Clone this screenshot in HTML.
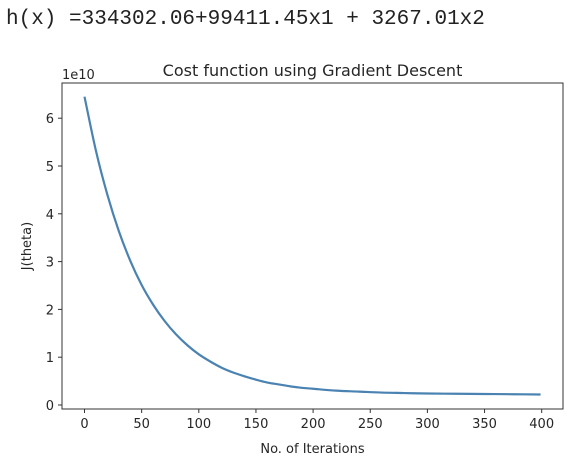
<!DOCTYPE html>
<html><head><meta charset="utf-8"><style>
body{margin:0;background:#fff;width:571px;height:460px;overflow:hidden}
.hdr{position:absolute;left:6px;top:8px;font:21px "Liberation Mono",monospace;color:#222;white-space:pre}
svg{position:absolute;left:0;top:0}
text{font-family:"DejaVu Sans","Liberation Sans",sans-serif;fill:#262626}
</style></head><body>
<div class="hdr">h(x) =334302.06+99411.45x1 + 3267.01x2</div>
<svg id="c" width="571" height="460"></svg>
<script>
const iters=[0,10,20,30,40,50,60,70,80,90,100,110,120,130,140,150,160,170,180,190,200,220,240,260,280,300,325,350,375,399];
const cost=[6.45,5.32,4.40,3.64,3.02,2.51,2.10,1.76,1.48,1.25,1.06,0.91,0.78,0.68,0.60,0.53,0.47,0.43,0.39,0.36,0.34,0.30,0.28,0.26,0.25,0.24,0.235,0.23,0.225,0.22];
const xTicks=[0,50,100,150,200,250,300,350,400];
const yTicks=[0,1,2,3,4,5,6];
const L=62,R=563,T=83,B=409;
const xs=v=>84.5+v*(541.7-84.5)/400;
const ys=v=>405-v*47.8;
const svg=document.getElementById('c');const NS='http://www.w3.org/2000/svg';
function mk(t,a,txt){const e=document.createElementNS(NS,t);for(const k in a)e.setAttribute(k,a[k]);if(txt!=null)e.textContent=txt;svg.appendChild(e);return e;}
let e=mk('rect',{x:L,y:T,width:R-L,height:B-T,fill:'none',stroke:'#333','stroke-width':1});


xTicks.forEach(v=>{const x=xs(v);
 let t=mk('line',{x1:x,x2:x,y1:B,y2:B+4,stroke:'#333'});
 
 
 let l=mk('text',{x:x,y:B+19,'text-anchor':'middle','font-size':13},v);
 
 });
yTicks.forEach(v=>{const y=ys(v);
 let t=mk('line',{x1:L-4,x2:L,y1:y,y2:y,stroke:'#333'});
 
 
 let l=mk('text',{x:L-8,y:y+5,'text-anchor':'end','font-size':13},v);
 
 });
let d='M'+xs(iters[0])+','+ys(cost[0]);
for(let i=1;i<iters.length;i++){
 const x0=xs(iters[i-1]),y0=ys(cost[i-1]),x1=xs(iters[i]),y1=ys(cost[i]);
 const xp=i>1?xs(iters[i-2]):x0,yp=i>1?ys(cost[i-2]):y0;
 const xn=i<iters.length-1?xs(iters[i+1]):x1,yn=i<iters.length-1?ys(cost[i+1]):y1;
 d+=' C'+(x0+(x1-xp)/6)+','+(y0+(y1-yp)/6)+' '+(x1-(xn-x0)/6)+','+(y1-(yn-y0)/6)+' '+x1+','+y1;
}
let p=mk('path',{d:d,fill:'none',stroke:'#4a83b1','stroke-width':2.2,'stroke-linejoin':'round'});


let a=mk('text',{x:L,y:T-4,'font-size':13},'1e10');


let ti=mk('text',{x:(L+R)/2,y:T-7,'text-anchor':'middle','font-size':16},'Cost function using Gradient Descent');


let xl=mk('text',{x:(L+R)/2,y:453,'text-anchor':'middle','font-size':13},'No. of Iterations');


let yl=mk('text',{x:0,y:0,'text-anchor':'middle','font-size':13,transform:'translate(31,246) rotate(-90)'},'J(theta)');


</script>
</body></html>
